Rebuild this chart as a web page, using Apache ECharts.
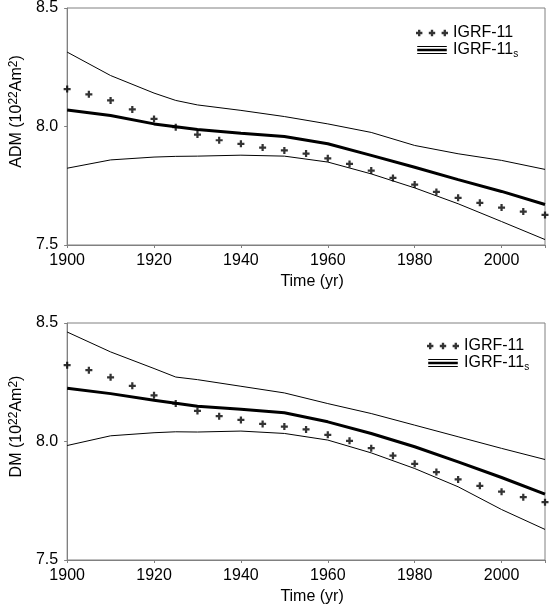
<!DOCTYPE html>
<html>
<head>
<meta charset="utf-8">
<script src="https://cdn.jsdelivr.net/npm/echarts@6/dist/echarts.min.js"></script>
<style>html,body{margin:0;padding:0;background:#fff}#c{width:550px;height:607px}</style>
</head>
<body>
<div id="c"></div>
<script>
// ---- data ----
var crossYears = [1900,1905,1910,1915,1920,1925,1930,1935,1940,1945,1950,1955,1960,1965,1970,1975,1980,1985,1990,1995,2000,2005,2010];
var admIGRF = [8.158,8.136,8.110,8.072,8.032,7.997,7.966,7.942,7.927,7.911,7.899,7.886,7.866,7.842,7.814,7.783,7.755,7.724,7.699,7.678,7.658,7.641,7.627];
var dmIGRF  = [8.322,8.301,8.271,8.235,8.195,8.160,8.129,8.107,8.091,8.074,8.063,8.051,8.028,8.003,7.972,7.940,7.906,7.871,7.840,7.813,7.788,7.765,7.744];

var lineYears = [1900,1910,1920,1925,1930,1940,1950,1960,1970,1980,1990,2000,2010];
var admMid   = [8.070,8.046,8.011,7.999,7.987,7.972,7.958,7.927,7.878,7.828,7.776,7.726,7.671];
var admUpper = [8.314,8.215,8.141,8.110,8.091,8.068,8.042,8.011,7.975,7.920,7.885,7.857,7.819];
var admLower = [7.824,7.859,7.871,7.874,7.875,7.879,7.875,7.850,7.800,7.741,7.674,7.599,7.523];
var dmMid    = [8.225,8.202,8.174,8.161,8.149,8.136,8.121,8.083,8.034,7.978,7.914,7.848,7.778];
var dmUpper  = [8.462,8.378,8.308,8.272,8.261,8.233,8.205,8.160,8.118,8.069,8.020,7.971,7.924];
var dmLower  = [7.983,8.024,8.037,8.041,8.040,8.044,8.034,8.006,7.952,7.886,7.809,7.713,7.629];

var yTicks = ['7.5','8.0','8.5'];
var xTicks = ['1900','1920','1940','1960','1980','2000'];
var legendNames = ['IGRF-11','IGRF-11s'];

function pairs(xs, ys){ return xs.map(function(x,i){ return [x, ys[i]]; }); }

var FONT = 'Liberation Sans';
var GRAY = '#808080';
var plusPath = 'path://M3.4,0H6.6V3.4H10V6.6H6.6V10H3.4V6.6H0V3.4H3.4Z';
var plus3 = 'path://' + [3,15,27].map(function(c){
  return 'M'+(c-1.1)+',0H'+(c+1.1)+'V1.9H'+(c+3)+'V4.1H'+(c+1.1)+'V6H'+(c-1.1)+'V4.1H'+(c-3)+'V1.9H'+(c-1.1)+'Z';
}).join(' ');
var triLine = 'path://M0,0H34V1.2H0Z M0,3.2H34V6H0Z M0,8H34V9.2H0Z';

function xAxis(gi){
  return {
    type:'value', gridIndex:gi, min:1900, max:2010, interval:20,
    name:'Time (yr)', nameLocation:'middle', nameGap:29,
    nameTextStyle:{fontFamily:FONT, fontSize:16, color:'#000', padding:[0,0,0,12]},
    axisLine:{show:true, lineStyle:{color:GRAY, width:1}},
    axisTick:{show:true, length:3, inside:false, lineStyle:{color:GRAY}},
    axisLabel:{fontFamily:FONT, fontSize:16, color:'#000', margin:8,
      formatter:function(v){ var s=String(v); return xTicks.indexOf(s)>=0 ? s : ''; }},
    splitLine:{show:false}
  };
}
function yAxis(gi, label){
  return {
    type:'value', gridIndex:gi, min:7.5, max:8.5, interval:0.5,
    name:label, nameLocation:'middle', nameGap:40, nameRotate:90,
    nameTextStyle:{fontFamily:FONT, fontSize:16, color:'#000', padding:[0,0,0,30],
      rich:{sup:{fontFamily:FONT, fontSize:12, color:'#000', verticalAlign:'top', padding:[0,0,6,0]}}},
    axisLine:{show:true, lineStyle:{color:GRAY, width:1}},
    axisTick:{show:true, length:3, lineStyle:{color:GRAY}},
    axisLabel:{fontFamily:FONT, fontSize:16, color:'#000', margin:9,
      formatter:function(v){ var s=v.toFixed(1); return yTicks.indexOf(s)>=0 ? s : ''; }},
    splitLine:{show:false}
  };
}
function lineSeries(name, gi, ys, w){
  return {type:'line', name:name, xAxisIndex:gi, yAxisIndex:gi, data:pairs(lineYears, ys),
    showSymbol:false, symbol:'none', silent:true, color:'#000',
    lineStyle:{color:'#000', width:w}};
}
function crossSeries(gi, ys){
  return {type:'scatter', name:legendNames[0], xAxisIndex:gi, yAxisIndex:gi, data:pairs(crossYears, ys),
    symbol:plusPath, symbolSize:7, color:'#000', itemStyle:{color:'#000'}, silent:true};
}
function legend(left, top){
  return {
    orient:'vertical', left:left, top:top, itemGap:1, itemWidth:32, itemHeight:8, padding:0,
    selectedMode:false,
    textStyle:{fontFamily:FONT, fontSize:16, color:'#000',
      rich:{sub:{fontFamily:FONT, fontSize:10, color:'#000', padding:[8,0,0,0]}}},
    formatter:function(n){ return n==='IGRF-11s' ? 'IGRF-11{sub|s}' : n; },
    data:[{name:legendNames[0], icon:plus3, itemStyle:{color:'#000'}},
          {name:legendNames[1], icon:triLine, itemStyle:{color:'#000'}}]
  };
}

var chart = echarts.init(document.getElementById('c'), null, {renderer:'canvas'});
chart.setOption({
  backgroundColor:'#fff',
  animation:false,
  legend:[legend(416, 25), legend(427, 338)],
  grid:[
    {left:62, top:7, width:483, height:238, show:true, borderColor:GRAY, borderWidth:1, backgroundColor:'transparent'},
    {left:62, top:323, width:483, height:237, show:true, borderColor:GRAY, borderWidth:1, backgroundColor:'transparent'}
  ],
  xAxis:[xAxis(0), xAxis(1)],
  yAxis:[yAxis(0, 'ADM (10{sup|22}Am{sup|2})'), yAxis(1, 'DM (10{sup|22}Am{sup|2})')],
  series:[
    crossSeries(0, admIGRF),
    lineSeries(legendNames[1], 0, admMid, 3),
    lineSeries('upper', 0, admUpper, 1),
    lineSeries('lower', 0, admLower, 1),
    crossSeries(1, dmIGRF),
    lineSeries(legendNames[1], 1, dmMid, 3),
    lineSeries('upper2', 1, dmUpper, 1),
    lineSeries('lower2', 1, dmLower, 1)
  ]
});
</script>
</body>
</html>
